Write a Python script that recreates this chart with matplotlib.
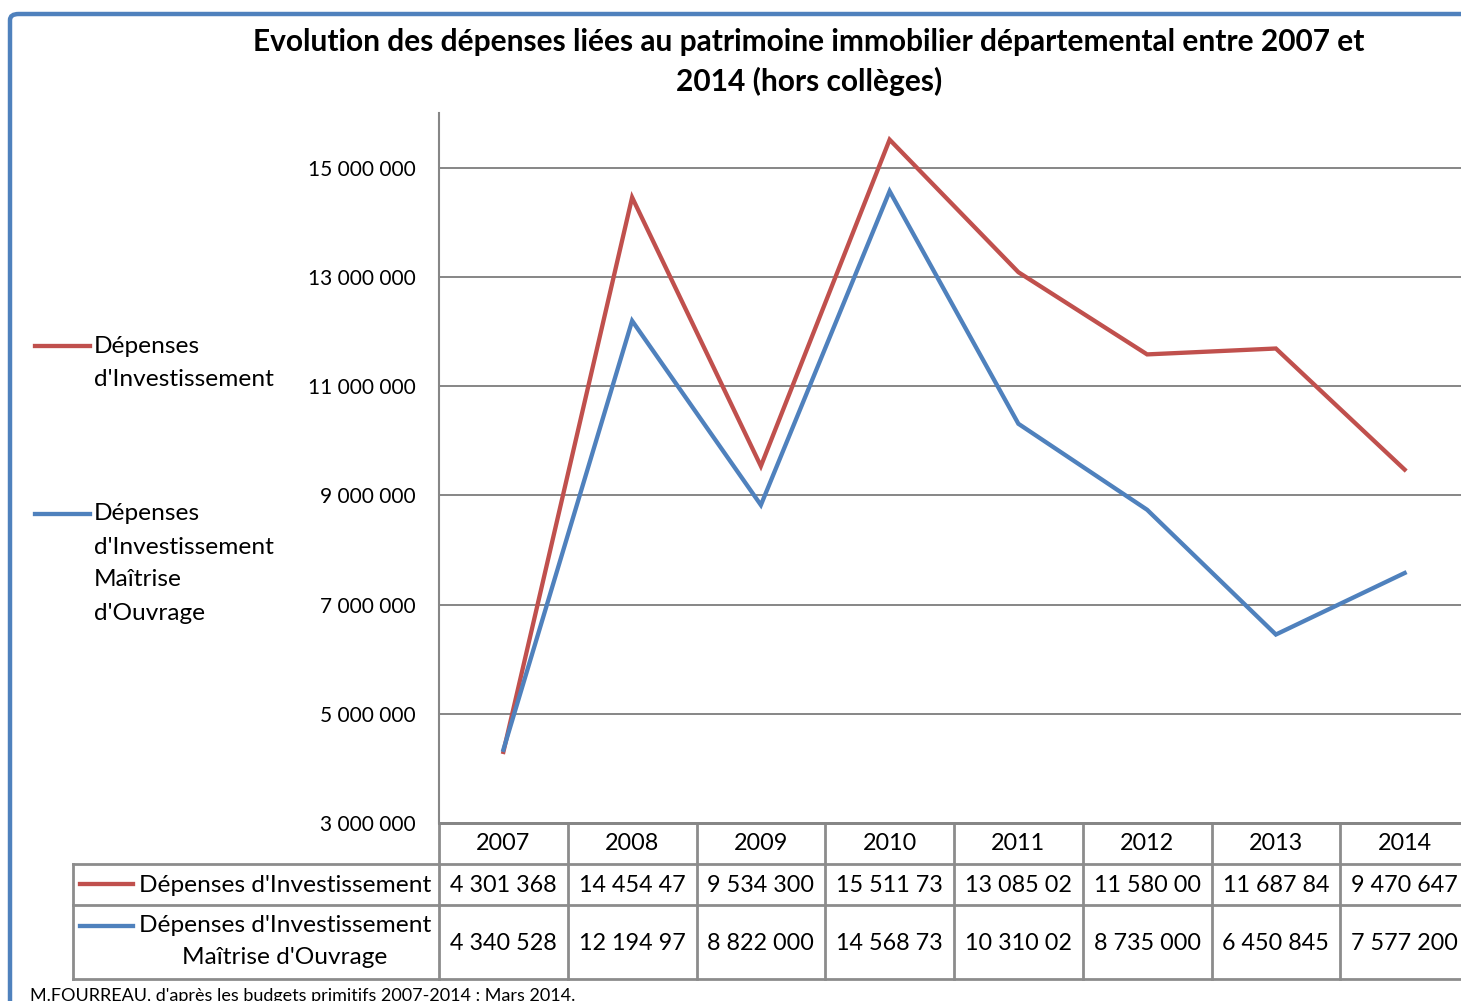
import matplotlib
matplotlib.use("Agg")
import matplotlib.pyplot as plt
from matplotlib.lines import Line2D
from matplotlib.patches import FancyBboxPatch
import matplotlib.transforms as mtransforms

plt.rcParams['font.family'] = ['Lato', 'DejaVu Sans']

years = ["2007", "2008", "2009", "2010", "2011", "2012", "2013", "2014"]
invest = [4301368, 14454470, 9534300, 15511730, 13085020, 11580000, 11687840, 9470647]
maitrise = [4340528, 12194970, 8822000, 14568730, 10310020, 8735000, 6450845, 7577200]
series_names = ["Dépenses d'Investissement", "Dépenses d'Investissement\nMaîtrise d'Ouvrage"]
legend_names = ["Dépenses\nd'Investissement", "Dépenses\nd'Investissement\nMaîtrise\nd'Ouvrage"]
yticks = [3000000, 5000000, 7000000, 9000000, 11000000, 13000000, 15000000]
title = "Evolution des dépenses liées au patrimoine immobilier départemental entre 2007 et\n2014 (hors collèges)"
source = "M.FOURREAU, d'après les budgets primitifs 2007-2014 : Mars 2014."

RED = "#C0504D"
BLUE = "#4F81BD"
GRID = "#868686"

W, H = 1461, 1001
fig = plt.figure(figsize=(W / 100, H / 100), dpi=100)

def fx(px):
    return px / W

def fy(py):
    return 1 - py / H

# outer chart border (cropped frame)
border = FancyBboxPatch((fx(10), fy(1040)), fx(1500), fy(14) - fy(1040),
                        boxstyle="round,pad=0,rounding_size=0.006",
                        transform=fig.transFigure, fill=False, edgecolor=BLUE,
                        linewidth=3.2, clip_on=False)
fig.add_artist(border)

ax = fig.add_axes([fx(439), fy(823), fx(1469) - fx(439), fy(113) - fy(823)])
x = list(range(len(years)))
ax.plot(x, invest, color=RED, linewidth=3.1, solid_joinstyle='miter', clip_on=False)
ax.plot(x, maitrise, color=BLUE, linewidth=3.1, solid_joinstyle='miter', clip_on=False)
ax.set_xlim(-0.5, len(years) - 0.5)
ax.set_ylim(3000000, 16000000)
ax.set_yticks(yticks)
ax.set_yticklabels([f"{v:,}".replace(",", " ") for v in yticks], fontsize=15)
ax.tick_params(axis='y', length=0, pad=16.5)
ax.set_xticks([])
for s in ["top", "right"]:
    ax.spines[s].set_visible(False)
ax.spines["left"].set_color(GRID)
ax.spines["left"].set_linewidth(1.5)
ax.spines["bottom"].set_color(GRID)
ax.spines["bottom"].set_linewidth(2)
ax.grid(axis='y', color=GRID, linewidth=1.4)
ax.set_axisbelow(True)

# title
for i, line in enumerate(title.split("\n")):
    fig.text(fx(809), fy(42 + 39 * i), line, ha='center', va='center', fontsize=21.5,
             fontweight='bold')

# side legend
for name, color, ytop in [(legend_names[0], RED, 346), (legend_names[1], BLUE, 514)]:
    fig.add_artist(Line2D([fx(35), fx(90)], [fy(ytop), fy(ytop)], color=color,
                          linewidth=3.1, transform=fig.transFigure))
    for i, line in enumerate(name.split("\n")):
        fig.text(fx(94), fy(ytop + 33 * i), line, ha='left', va='center', fontsize=17.6)

# data table below the axis
trans = mtransforms.blended_transform_factory(ax.transData, fig.transFigure)
row_edges = [823, 864, 905, 979]
tcol = "#8C8C8C"
for i, py in enumerate(row_edges):
    ax.add_line(Line2D([-0.5, len(years) - 0.5], [fy(py), fy(py)], color=tcol,
                       linewidth=2, transform=trans, clip_on=False))
    if i > 0:
        fig.add_artist(Line2D([fx(73), fx(439)], [fy(py), fy(py)], color=tcol,
                              linewidth=2, transform=fig.transFigure))
for k in range(len(years) + 1):
    ax.add_line(Line2D([k - 0.5, k - 0.5], [fy(823), fy(979)], color=tcol,
                       linewidth=2, transform=trans, clip_on=False))
fig.add_artist(Line2D([fx(73), fx(73)], [fy(864), fy(979)], color=tcol,
                      linewidth=2, transform=fig.transFigure))

def fmt(v):
    return f"{v:,}".replace(",", " ")[:9]

for k, yr in enumerate(years):
    ax.text(k, fy(844), yr, transform=trans, ha='center', va='center', fontsize=16.8)
    ax.text(k, fy(885), fmt(invest[k]), transform=trans, ha='center', va='center', fontsize=16.8)
    ax.text(k, fy(943), fmt(maitrise[k]), transform=trans, ha='center', va='center', fontsize=16.8)

# row labels with keys
fig.add_artist(Line2D([fx(80), fx(133)], [fy(884), fy(884)], color=RED,
                      linewidth=3.1, transform=fig.transFigure))
fig.text(fx(285), fy(885), series_names[0], ha='center', va='center', fontsize=17.6)
fig.add_artist(Line2D([fx(80), fx(133)], [fy(926), fy(926)], color=BLUE,
                      linewidth=3.1, transform=fig.transFigure))
for i, line in enumerate(series_names[1].split("\n")):
    fig.text(fx(285), fy(926 + 32 * i), line, ha='center', va='center', fontsize=17.6)

# source
fig.text(fx(30), fy(1001), source, ha='left', va='baseline', fontsize=13)

fig.savefig("out.png", dpi=100)
